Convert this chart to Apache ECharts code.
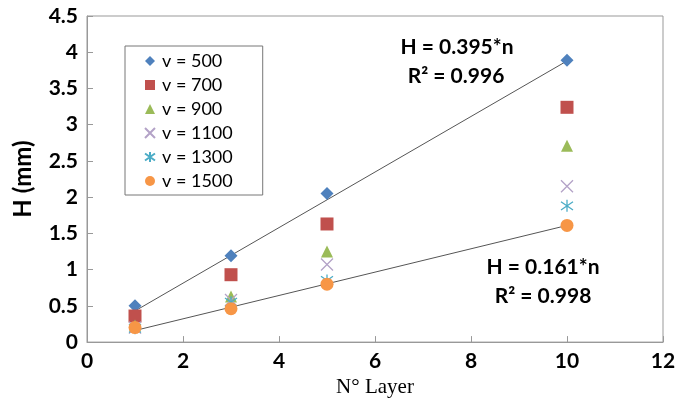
<!DOCTYPE html>
<html>
<head>
<meta charset="utf-8">
<script src="https://cdn.jsdelivr.net/npm/echarts@6/dist/echarts.min.js"></script>
<style>
  html, body { margin: 0; padding: 0; background: #fff; }
  #chart { width: 692px; height: 403px; }
</style>
</head>
<body>
<div id="chart"></div>
<script>
// layers (x) and heights per speed
const layers = [1, 3, 5, 10];
const seriesNames = ['v = 500', 'v = 700', 'v = 900', 'v = 1100', 'v = 1300', 'v = 1500'];
const v500 = [0.50, 1.19, 2.05, 3.89];
const v700 = [0.36, 0.93, 1.63, 3.24];
const v900 = [0.23, 0.63, 1.25, 2.71];
const v1100 = [0.20, 0.58, 1.07, 2.15];
const v1300 = [0.19, 0.55, 0.85, 1.88];
const v1500 = [0.20, 0.46, 0.80, 1.61];
// trend line endpoints
const trendHigh = [[1, 0.43], [10, 3.88]];
const trendLow = [[1, 0.16], [10, 1.61]];

const colors = ['#4F81BD', '#C0504D', '#9BBB59', '#B3A2C7', '#4BACC6', '#F79646'];
const symbols = [
  'diamond', 'rect', 'triangle',
  'path://M0,0L10,10M10,0L0,10',
  'path://M5,0L5,10M0,1.5L10,8.5M10,1.5L0,8.5',
  'circle'
];
const sizes = [13, 13, 12, 12, 12, 13];
const values = [v500, v700, v900, v1100, v1300, v1500];

const SANS = 'Lato, "Open Sans", sans-serif';
const chart = echarts.init(document.getElementById('chart'));

const scatter = values.map((vals, i) => {
  const stroked = i === 3 || i === 4;
  return {
    name: seriesNames[i],
    type: 'scatter',
    data: layers.map((x, j) => [x, vals[j]]),
    symbol: symbols[i],
    symbolSize: sizes[i],
    itemStyle: stroked
      ? { color: 'rgba(0,0,0,0)', borderColor: colors[i], borderWidth: 1.3, opacity: 1 }
      : { color: colors[i], opacity: 1 },
    z: 3
  };
});

const trend = [trendHigh, trendLow].map(d => ({
  type: 'line',
  data: d,
  symbol: 'none',
  lineStyle: { color: '#555', width: 1 },
  silent: true,
  z: 2
}));

const labelFont = { fontFamily: SANS, fontWeight: 'bold', fontSize: 21, color: '#000' };
const annFont = 'bold 21px Lato, "Open Sans", sans-serif';

chart.setOption({
  animation: false,
  grid: { left: 87, right: 29, top: 16, bottom: 58, show: true, borderColor: '#999', borderWidth: 1 },
  xAxis: {
    type: 'value', min: 0, max: 12, interval: 2,
    name: 'N° Layer', nameLocation: 'middle', nameGap: 33,
    nameTextStyle: { fontFamily: 'Liberation Serif, serif', fontSize: 21, color: '#000' },
    axisLine: { lineStyle: { color: '#999' } },
    axisTick: { inside: true, length: 6, lineStyle: { color: '#999' } },
    axisLabel: Object.assign({ margin: 9 }, labelFont),
    splitLine: { show: false }
  },
  yAxis: {
    type: 'value', min: 0, max: 4.5, interval: 0.5,
    name: 'H (mm)', nameLocation: 'middle', nameGap: 52,
    nameTextStyle: { fontFamily: SANS, fontWeight: 'bold', fontSize: 24, color: '#000' },
    axisLine: { show: true, lineStyle: { color: '#999' } },
    axisTick: { show: true, inside: true, length: 6, lineStyle: { color: '#999' } },
    axisLabel: Object.assign({ margin: 9 }, labelFont),
    splitLine: { show: false }
  },
  legend: {
    data: seriesNames,
    orient: 'vertical',
    left: 125, top: 46,
    width: 132,
    padding: [6, 30, 5, 19],
    itemGap: 6,
    itemWidth: 10, itemHeight: 10,
    borderColor: '#777', borderWidth: 1, borderRadius: 0,
    textStyle: { fontFamily: SANS, fontSize: 18, lineHeight: 18, color: '#000', padding: [0, 0, 0, 2] }
  },
  graphic: [
    { type: 'text', x: 457, y: 47, style: { text: 'H = 0.395*n', font: annFont, fill: '#000', align: 'center', verticalAlign: 'middle' } },
    { type: 'text', x: 456, y: 76, style: { text: 'R² = 0.996', font: annFont, fill: '#000', align: 'center', verticalAlign: 'middle' } },
    { type: 'text', x: 543, y: 267, style: { text: 'H = 0.161*n', font: annFont, fill: '#000', align: 'center', verticalAlign: 'middle' } },
    { type: 'text', x: 543, y: 296, style: { text: 'R² = 0.998', font: annFont, fill: '#000', align: 'center', verticalAlign: 'middle' } }
  ],
  series: trend.concat(scatter)
});
</script>
</body>
</html>
